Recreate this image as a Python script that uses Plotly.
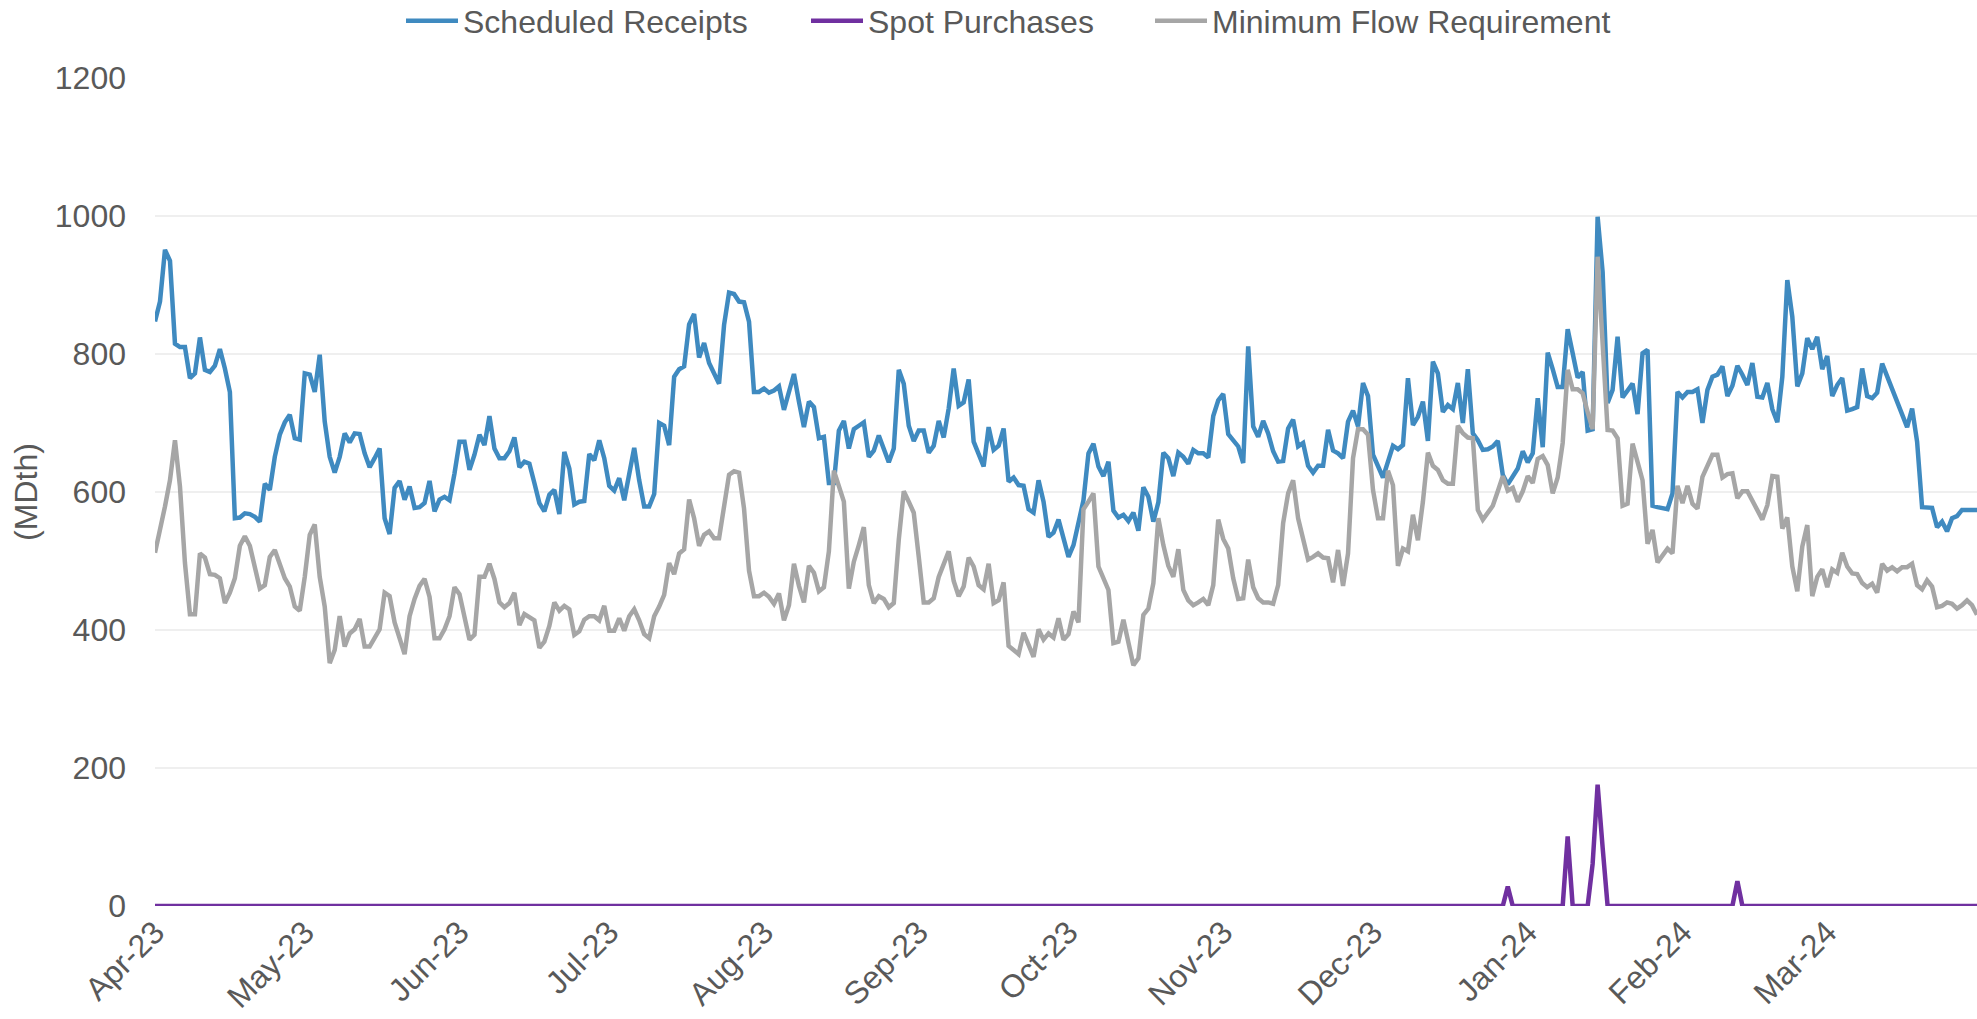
import pandas as pd
import plotly.graph_objs as go

# Daily values, 1 Apr 2023 .. 31 Mar 2024 (MDth)
scheduled_receipts = [
    847, 876, 951, 935, 815, 810, 810, 765, 772, 824,
    777, 774, 783, 807, 779, 745, 562, 563, 569, 568,
    564, 557, 612, 603, 651, 683, 701, 712, 678, 676,
    772, 770, 745, 799, 702, 651, 628, 651, 685, 672,
    685, 684, 656, 636, 649, 663, 562, 539, 606, 616,
    589, 608, 577, 578, 584, 616, 572, 589, 593, 588,
    627, 673, 673, 632, 654, 683, 668, 710, 663, 649,
    649, 659, 679, 636, 644, 641, 613, 584, 572, 596,
    603, 568, 658, 634, 582, 586, 587, 655, 646, 675,
    649, 609, 602, 620, 588, 626, 664, 617, 579, 579,
    597, 700, 696, 668, 767, 778, 782, 843, 858, 795,
    816, 787, 772, 757, 842, 889, 887, 876, 875, 847,
    745, 745, 750, 744, 747, 753, 719, 745, 771, 731,
    694, 731, 723, 678, 680, 613, 613, 689, 703, 663,
    691, 696, 701, 651, 660, 682, 661, 643, 663, 777,
    757, 696, 674, 689, 689, 657, 667, 703, 679, 721,
    779, 725, 730, 763, 673, 656, 637, 694, 661, 667,
    692, 615, 621, 610, 609, 575, 570, 617, 586, 535,
    541, 560, 533, 506, 523, 555, 588, 656, 670, 637,
    623, 644, 573, 563, 567, 558, 570, 544, 607, 593,
    557, 585, 657, 649, 623, 657, 651, 641, 661, 656,
    656, 650, 710, 733, 742, 684, 676, 666, 642, 811,
    695, 680, 703, 685, 659, 644, 645, 692, 705, 666,
    671, 638, 628, 638, 638, 690, 660, 656, 649, 702,
    718, 695, 758, 739, 654, 639, 621, 644, 667, 662,
    668, 765, 697, 709, 731, 674, 789, 772, 716, 726,
    720, 758, 700, 778, 685, 675, 661, 662, 666, 674,
    625, 611, 623, 634, 659, 643, 656, 736, 665, 802,
    778, 752, 752, 836, 801, 766, 774, 689, 691, 999,
    919, 729, 748, 825, 737, 748, 757, 713, 801, 806,
    580, 578, 576, 575, 598, 745, 737, 745, 745, 749,
    700, 748, 767, 770, 782, 739, 754, 783, 770, 755,
    787, 738, 737, 758, 720, 701, 767, 907, 854, 753,
    772, 823, 807, 825, 778, 797, 739, 755, 765, 718,
    720, 723, 779, 739, 736, 744, 786, 767, 748, 730,
    712, 694, 721, 673, 578, 577, 577, 549, 557, 543,
    562, 565, 574, 574, 574, 574,
]

minimum_flow = [
    512, 543, 579, 617, 675, 608, 497, 423, 423, 511,
    505, 481, 480, 475, 439, 454, 475, 522, 536, 522,
    487, 460, 465, 506, 516, 494, 475, 463, 434, 428,
    477, 538, 553, 477, 434, 352, 371, 420, 376, 395,
    401, 416, 376, 376, 390, 401, 454, 449, 411, 390,
    365, 420, 445, 464, 474, 448, 388, 388, 401, 420,
    462, 452, 419, 386, 393, 477, 477, 496, 474, 440,
    433, 439, 454, 407, 423, 419, 414, 374, 383, 406,
    440, 428, 435, 430, 393, 398, 415, 420, 420, 414,
    435, 399, 399, 417, 399, 420, 430, 414, 394, 388,
    420, 434, 451, 497, 481, 511, 517, 589, 562, 522,
    538, 543, 533, 533, 584, 625, 630, 628, 576, 486,
    449, 449, 454, 448, 438, 453, 414, 436, 496, 464,
    440, 493, 483, 456, 462, 514, 631, 610, 586, 460,
    499, 523, 549, 465, 439, 449, 445, 433, 439, 531,
    601, 586, 570, 506, 440, 440, 446, 477, 498, 514,
    471, 449, 463, 505, 492, 465, 459, 496, 439, 443,
    469, 377, 371, 365, 396, 377, 361, 401, 386, 395,
    389, 417, 386, 394, 427, 411, 575, 586, 598, 492,
    476, 458, 381, 383, 415, 383, 349, 359, 422, 431,
    468, 562, 523, 493, 477, 517, 458, 443, 436, 440,
    445, 436, 465, 560, 532, 518, 475, 445, 446, 502,
    462, 446, 440, 440, 438, 465, 555, 598, 617, 562,
    535, 502, 506, 511, 505, 504, 469, 516, 464, 511,
    649, 691, 691, 683, 603, 562, 562, 631, 610, 493,
    518, 514, 567, 530, 586, 657, 638, 632, 617, 612,
    612, 696, 685, 679, 678, 574, 560, 569, 580, 601,
    623, 602, 606, 586, 601, 623, 613, 648, 652, 639,
    598, 621, 671, 777, 749, 749, 743, 716, 691, 941,
    813, 690, 689, 678, 580, 583, 670, 646, 617, 525,
    545, 498, 507, 518, 511, 609, 584, 609, 583, 576,
    622, 639, 654, 654, 621, 626, 627, 591, 601, 601,
    588, 574, 560, 581, 623, 622, 547, 563, 492, 456,
    521, 552, 449, 477, 488, 462, 488, 483, 512, 492,
    482, 481, 468, 462, 467, 454, 496, 486, 491, 485,
    491, 491, 496, 465, 459, 472, 463, 433, 435, 440,
    438, 431, 436, 443, 436, 422,
]

# spot purchases are zero except on these days
spot_days = ["2023-12-28", "2024-01-09", "2024-01-14", "2024-01-15", "2024-01-16", "2024-02-12"]
spot_values = [28, 101, 61, 176, 85, 36]

dates = pd.date_range("2023-04-01", "2024-03-31", freq="D")
spot_lookup = dict(zip(pd.to_datetime(spot_days), spot_values))
spot_purchases = [spot_lookup.get(d, 0) for d in dates]

text_color = "#595959"
font_family = "Liberation Sans, Arial, sans-serif"
fs = 32
lw = 4.5

trace1 = go.Scatter(x=dates, y=scheduled_receipts, mode="lines", name="Scheduled Receipts",
                    line={"color": "#3F8AC0", "width": lw}, legend="legend")
trace2 = go.Scatter(x=dates, y=spot_purchases, mode="lines", name="Spot Purchases",
                    line={"color": "#7030A0", "width": lw}, legend="legend2")
trace3 = go.Scatter(x=dates, y=minimum_flow, mode="lines", name="Minimum Flow Requirement",
                    line={"color": "#A6A6A6", "width": lw}, legend="legend3")

# one legend per series so the entries sit where Excel put them
# (container coords so they don't push the top margin)
def legend_at(x):
    return {"orientation": "h", "xref": "container", "yref": "container",
            "x": x, "xanchor": "left", "y": 1 - 21 / 1019, "yanchor": "middle",
            "font": {"size": fs, "color": text_color}, "itemwidth": 52,
            "bgcolor": "rgba(0,0,0,0)"}

layout = go.Layout(
    width=1977, height=1019,
    margin={"l": 155, "r": 0, "t": 78, "b": 113},
    paper_bgcolor="white", plot_bgcolor="white",
    font={"family": font_family, "size": fs, "color": text_color},
    showlegend=True,
    legend=legend_at(401 / 1977),
    legend2=legend_at(806 / 1977),
    legend3=legend_at(1150 / 1977),
    xaxis={"type": "date", "range": ["2023-04-01", "2024-03-31"],
           "tick0": "2023-04-01", "dtick": "M1", "tickformat": "%b-%y", "tickangle": -45,
           "showgrid": False, "zeroline": False, "showline": False,
           "tickfont": {"size": fs, "color": text_color}},
    yaxis={"range": [0, 1200], "dtick": 200, "showgrid": True, "gridcolor": "#EFEFEF", "gridwidth": 2,
           "zeroline": False, "showline": False, "ticklabelstandoff": 28,
           "tickfont": {"size": fs, "color": text_color},
           "title": {"text": "(MDth)", "font": {"size": fs, "color": text_color}, "standoff": 7}},
)

fig = go.Figure(data=[trace1, trace2, trace3], layout=layout)
fig.write_html("out.html", config={"displayModeBar": False},
               post_script="document.body.style.margin='0';document.body.style.overflow='hidden';")
